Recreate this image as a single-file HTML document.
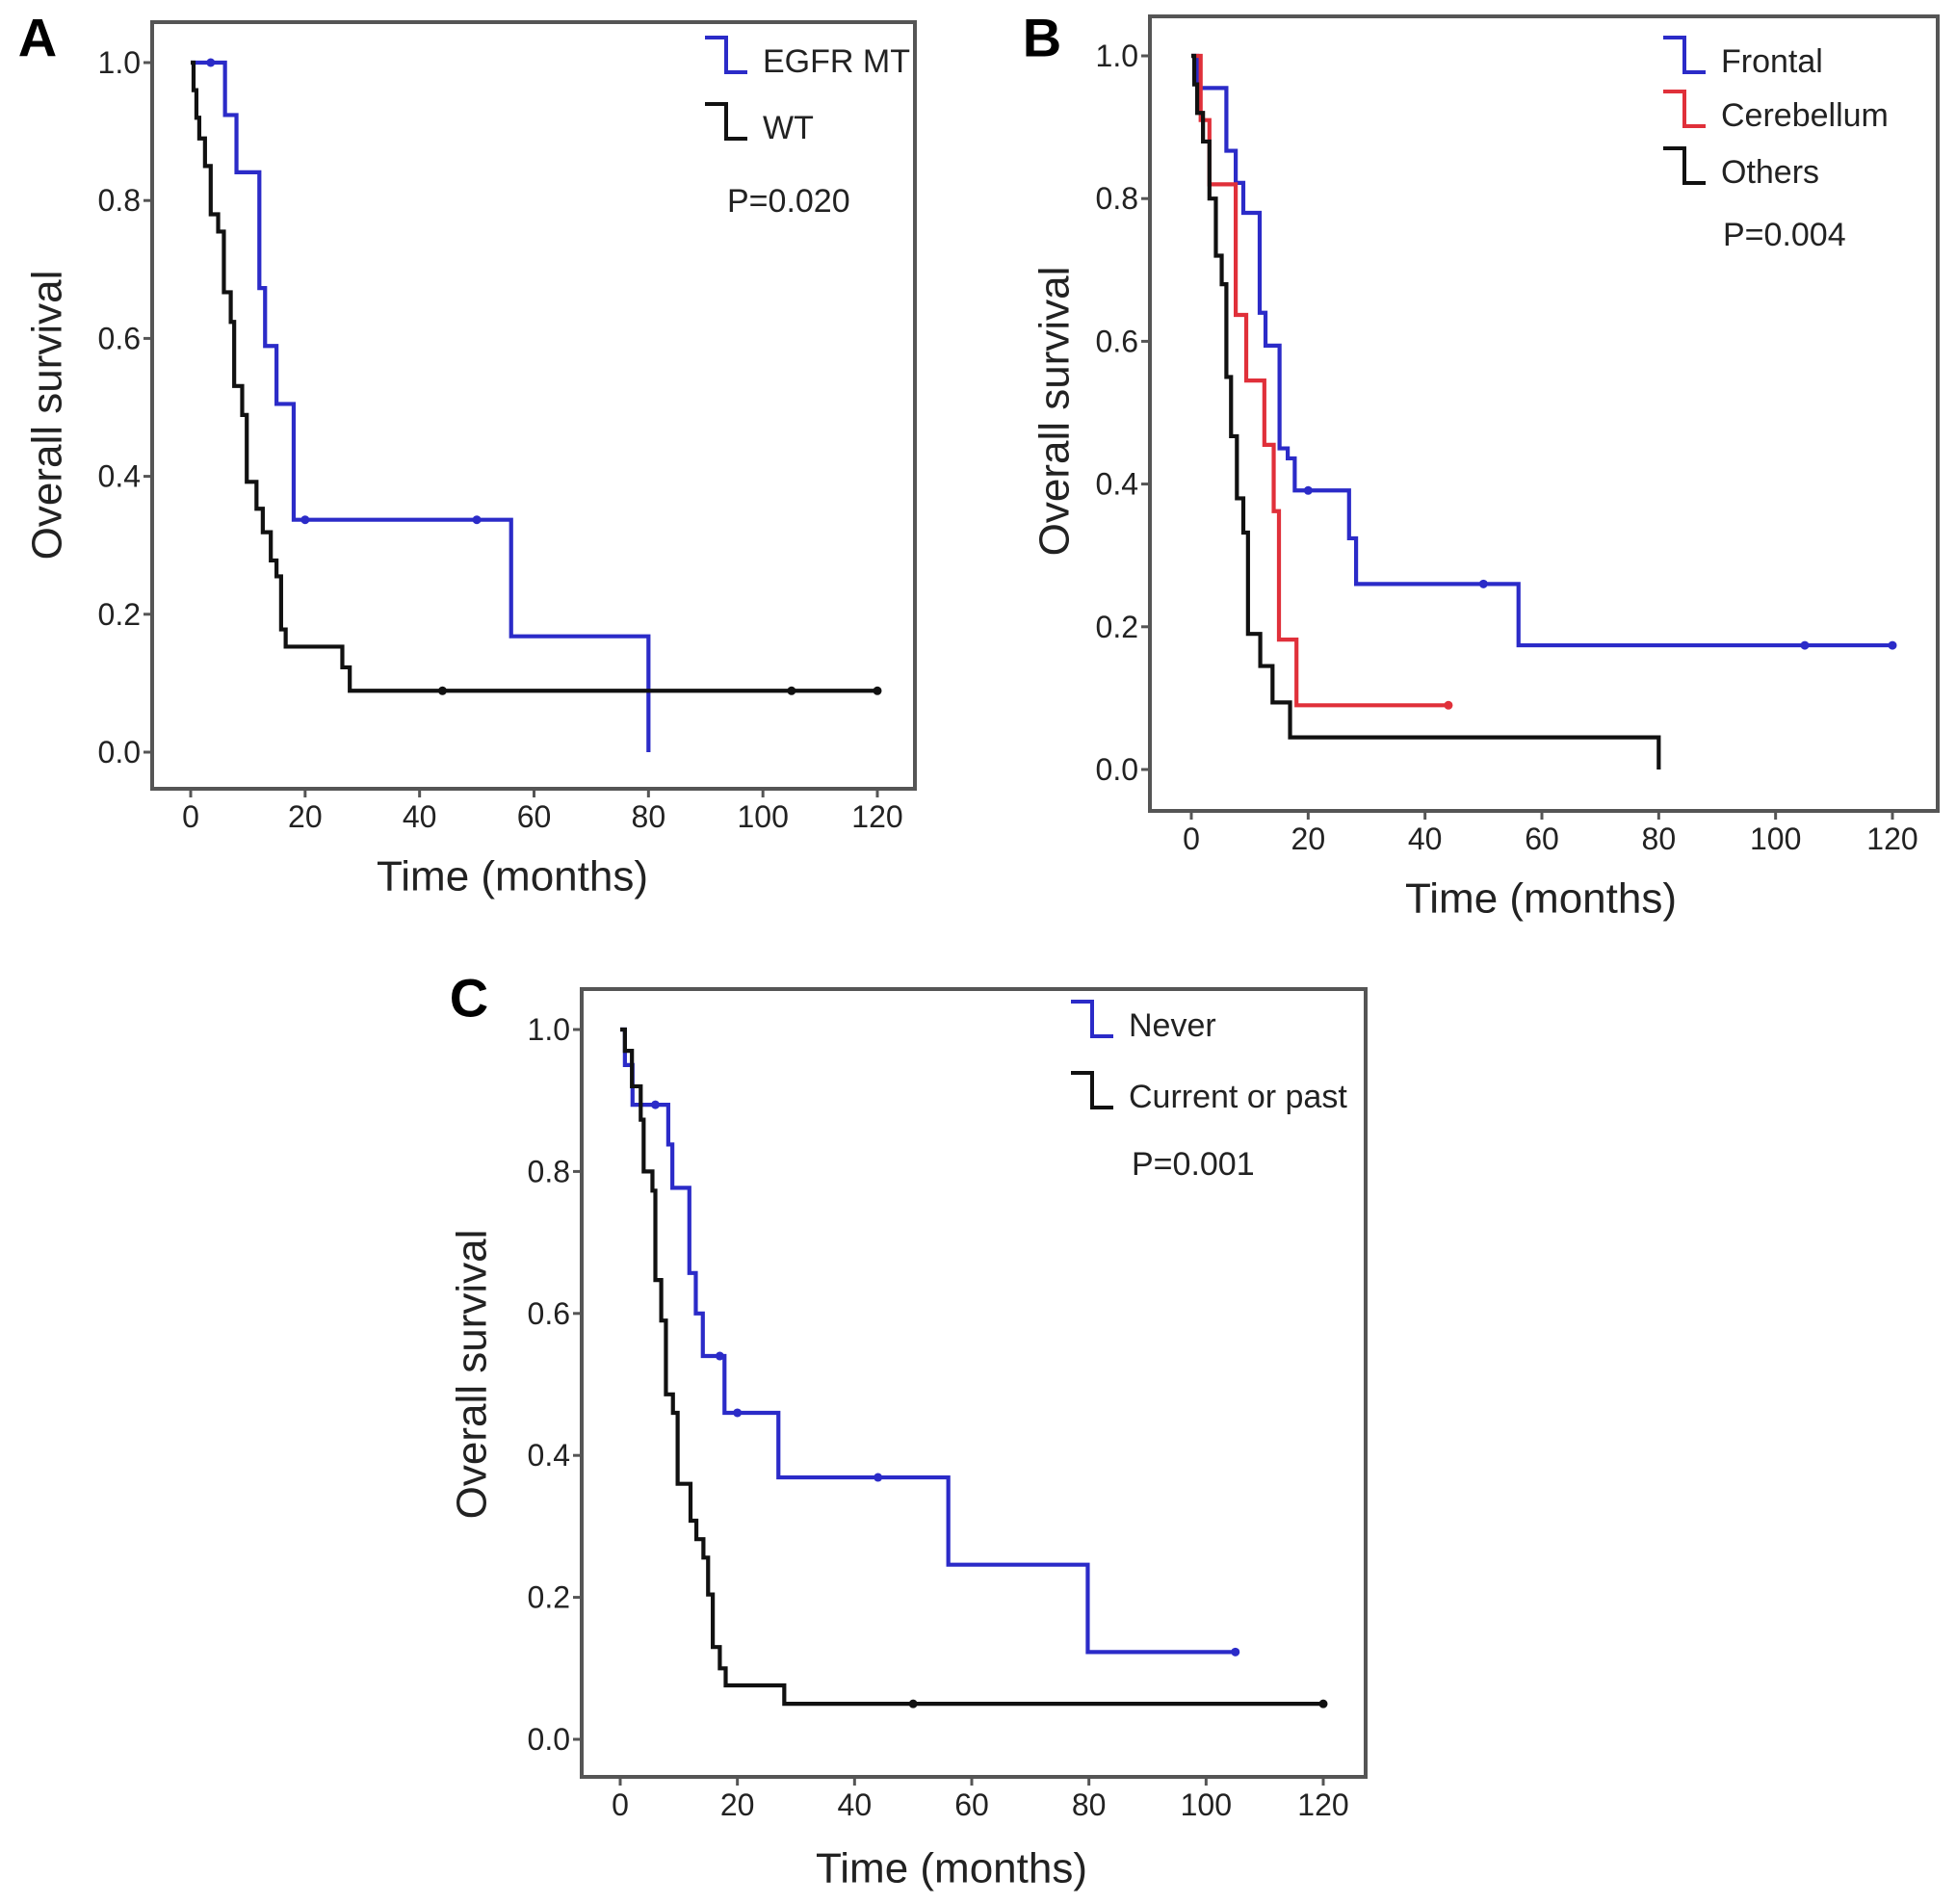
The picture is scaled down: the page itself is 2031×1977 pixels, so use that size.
<!DOCTYPE html>
<html><head><meta charset="utf-8"><style>
body{margin:0;background:#fff}
svg{display:block}
text{font-family:"Liberation Sans",Arial,sans-serif;fill:#222}
</style></head><body>
<svg id="fig" width="2031" height="1977" viewBox="0 0 2031 1977" xmlns="http://www.w3.org/2000/svg">
<rect width="2031" height="1977" fill="#fff"/>
</svg>
<script>
// ---- Panel A data ----
const aMtTimes = [6, 8, 12, 13, 15, 18, 56, 80];
const aMtValues = [0.924, 0.841, 0.673, 0.589, 0.505, 0.337, 0.168, 0.0];
const aMtCensor = [3.5, 20, 50];
const aWtTimes = [0.5, 1, 1.5, 2.5, 3.5, 4.8, 5.8, 7, 7.6, 9, 9.8, 11.5, 12.6, 14, 15, 15.8, 16.6, 26.5, 27.8];
const aWtValues = [0.96, 0.92, 0.89, 0.85, 0.78, 0.755, 0.667, 0.624, 0.531, 0.489, 0.392, 0.353, 0.319, 0.278, 0.255, 0.178, 0.153, 0.123, 0.089];
const aWtCensor = [44, 105, 120];
// ---- Panel B data ----
const bFrTimes = [1, 6, 7.6, 8.9, 11.7, 12.7, 15.1, 16.5, 17.7, 27, 28.2, 56];
const bFrValues = [0.955, 0.867, 0.822, 0.78, 0.64, 0.594, 0.45, 0.436, 0.391, 0.324, 0.26, 0.174];
const bFrCensor = [20, 50, 105, 120];
const bCeTimes = [1.6, 3.1, 7.6, 9.4, 12.5, 14.1, 15, 18];
const bCeValues = [0.91, 0.82, 0.637, 0.545, 0.455, 0.362, 0.182, 0.09];
const bCeCensor = [44];
const bOtTimes = [0.5, 1, 2, 3.1, 4.2, 5.2, 6, 6.8, 7.8, 8.9, 9.7, 11.8, 13.9, 16.9, 80];
const bOtValues = [0.96, 0.92, 0.88, 0.8, 0.72, 0.68, 0.55, 0.467, 0.38, 0.332, 0.19, 0.145, 0.094, 0.045, 0.0];
const bOtCensor = [];
// ---- Panel C data ----
const cNvTimes = [0.8, 2.1, 8.2, 8.9, 11.8, 12.9, 14.1, 17.8, 27, 56, 79.8];
const cNvValues = [0.95, 0.894, 0.838, 0.777, 0.657, 0.6, 0.54, 0.46, 0.369, 0.246, 0.123];
const cNvCensor = [6, 17, 20, 44, 105];
const cCuTimes = [0.8, 2, 3.5, 4, 5.5, 6, 7, 7.8, 9, 9.8, 12, 13, 14.2, 15, 15.8, 17, 18, 28];
const cCuValues = [0.97, 0.92, 0.873, 0.8, 0.773, 0.647, 0.59, 0.486, 0.46, 0.36, 0.308, 0.282, 0.256, 0.204, 0.13, 0.1, 0.076, 0.05];
const cCuCensor = [50, 120];
// ---- axis ticks ----
const xTicks = [0, 20, 40, 60, 80, 100, 120];
const yTicks = [0.0, 0.2, 0.4, 0.6, 0.8, 1.0];

const NS = "http://www.w3.org/2000/svg";
const svg = document.getElementById('fig');
function mk(tag, attrs, parent, txt){
  const e = document.createElementNS(NS, tag);
  for (const k in attrs) e.setAttribute(k, attrs[k]);
  if (txt !== undefined) e.textContent = txt;
  (parent || svg).appendChild(e);
  return e;
}
const BLUE = "#2b2bc8", RED = "#e0303a", BLACK = "#111";

function panel(p){
  const g = mk('g', {});
  
  
  const xs = v => p.x0 + (p.x120 - p.x0) * v / 120;
  const ys = v => p.y0 + (p.y1 - p.y0) * v;
  const box = mk('rect', {x:p.bx, y:p.by, width:p.bw, height:p.bh, fill:'none', stroke:'#555', 'stroke-width':4}, g);
  
  
  const letter = mk('text', {x:p.lx, y:p.ly, 'font-size':56, 'font-weight':'bold', 'text-anchor':'middle', 'dominant-baseline':'central', style:'fill:#000'}, g, p.letter);
  
  
  const bottom = p.by + p.bh;
  xTicks.forEach(t => {
    const x = xs(t);
    const tk = mk('line', {x1:x, x2:x, y1:bottom, y2:bottom + 9, stroke:'#555', 'stroke-width':3}, g);
    
    
    const lb = mk('text', {x:x, y:bottom + 40, 'font-size':32, 'text-anchor':'middle'}, g, String(t));
    
    
  });
  yTicks.forEach(t => {
    const y = ys(t);
    const tk = mk('line', {x1:p.bx - 9, x2:p.bx, y1:y, y2:y, stroke:'#555', 'stroke-width':3}, g);
    
    
    const lb = mk('text', {x:p.bx - 12, y:y + 11, 'font-size':32, 'text-anchor':'end'}, g, t.toFixed(1));
    
    
  });
  const xt = mk('text', {x:p.xtx, y:p.xty, 'font-size':44, 'text-anchor':'middle', 'dominant-baseline':'central'}, g, 'Time (months)');
  
  
  const yt = mk('text', {x:0, y:0, 'font-size':44, 'text-anchor':'middle', 'dominant-baseline':'central', transform:`translate(${p.ytx},${p.yty}) rotate(-90)`}, g, 'Overall survival');
  
  

  p.series.forEach(s => {
    let d = `M${xs(0)},${ys(1)}`;
    for (let i = 0; i < s.times.length; i++){
      d += ` H${xs(s.times[i])} V${ys(s.values[i])}`;
    }
    const lastT = Math.max(s.times[s.times.length-1], ...(s.censor.length ? s.censor : [0]));
    d += ` H${xs(lastT)}`;
    const path = mk('path', {d:d, fill:'none', stroke:s.color, 'stroke-width':4.2, 'stroke-linejoin':'miter'}, g);
    
    
    s.censor.forEach(c => {
      let v = 1;
      for (let i = 0; i < s.times.length; i++) if (s.times[i] <= c) v = s.values[i];
      const m = mk('circle', {cx:xs(c), cy:ys(v), r:4.5, fill:s.color}, g);
      
      
    });
  });
  p.legend.forEach(l => {
    const lg = mk('g', {}, g);
    
    
    mk('path', {d:`M${l.x},${l.y} H${l.x+22} V${l.y+36} H${l.x+44}`, fill:'none', stroke:l.color, 'stroke-width':4}, lg);
    mk('text', {x:l.x + 60, y:l.y + 36, 'font-size':34}, lg, l.label);
  });
  const pv = mk('text', {x:p.px, y:p.py, 'font-size':34}, g, p.pval);
  
  
}

panel({id:'a', letter:'A', lx:39, ly:39, bx:158, by:23, bw:792, bh:796, x0:198, x120:911, y0:781, y1:65,
  xtx:532, xty:910, ytx:49, yty:431,
  series:[
    {name:'egfr-mt', color:BLUE, times:aMtTimes, values:aMtValues, censor:aMtCensor},
    {name:'wt', color:BLACK, times:aWtTimes, values:aWtValues, censor:aWtCensor}],
  legend:[{x:732, y:39, color:BLUE, label:'EGFR MT'}, {x:732, y:108, color:BLACK, label:'WT'}],
  px:755, py:220, pval:'P=0.020'});

panel({id:'b', letter:'B', lx:1082, ly:39, bx:1194, by:17, bw:818, bh:825, x0:1237, x120:1965, y0:799, y1:58,
  xtx:1600, xty:933, ytx:1095, yty:427,
  series:[
    {name:'frontal', color:BLUE, times:bFrTimes, values:bFrValues, censor:bFrCensor},
    {name:'cerebellum', color:RED, times:bCeTimes, values:bCeValues, censor:bCeCensor},
    {name:'others', color:BLACK, times:bOtTimes, values:bOtValues, censor:bOtCensor}],
  legend:[{x:1727, y:39, color:BLUE, label:'Frontal'}, {x:1727, y:95, color:RED, label:'Cerebellum'}, {x:1727, y:154, color:BLACK, label:'Others'}],
  px:1789, py:255, pval:'P=0.004'});

panel({id:'c', letter:'C', lx:487, ly:1036, bx:604, by:1027, bw:814, bh:818, x0:644, x120:1374, y0:1806, y1:1069,
  xtx:988, xty:1940, ytx:490, yty:1427,
  series:[
    {name:'never', color:BLUE, times:cNvTimes, values:cNvValues, censor:cNvCensor},
    {name:'current-or-past', color:BLACK, times:cCuTimes, values:cCuValues, censor:cCuCensor}],
  legend:[{x:1112, y:1040, color:BLUE, label:'Never'}, {x:1112, y:1114, color:BLACK, label:'Current or past'}],
  px:1175, py:1220, pval:'P=0.001'});
</script>
</body></html>
